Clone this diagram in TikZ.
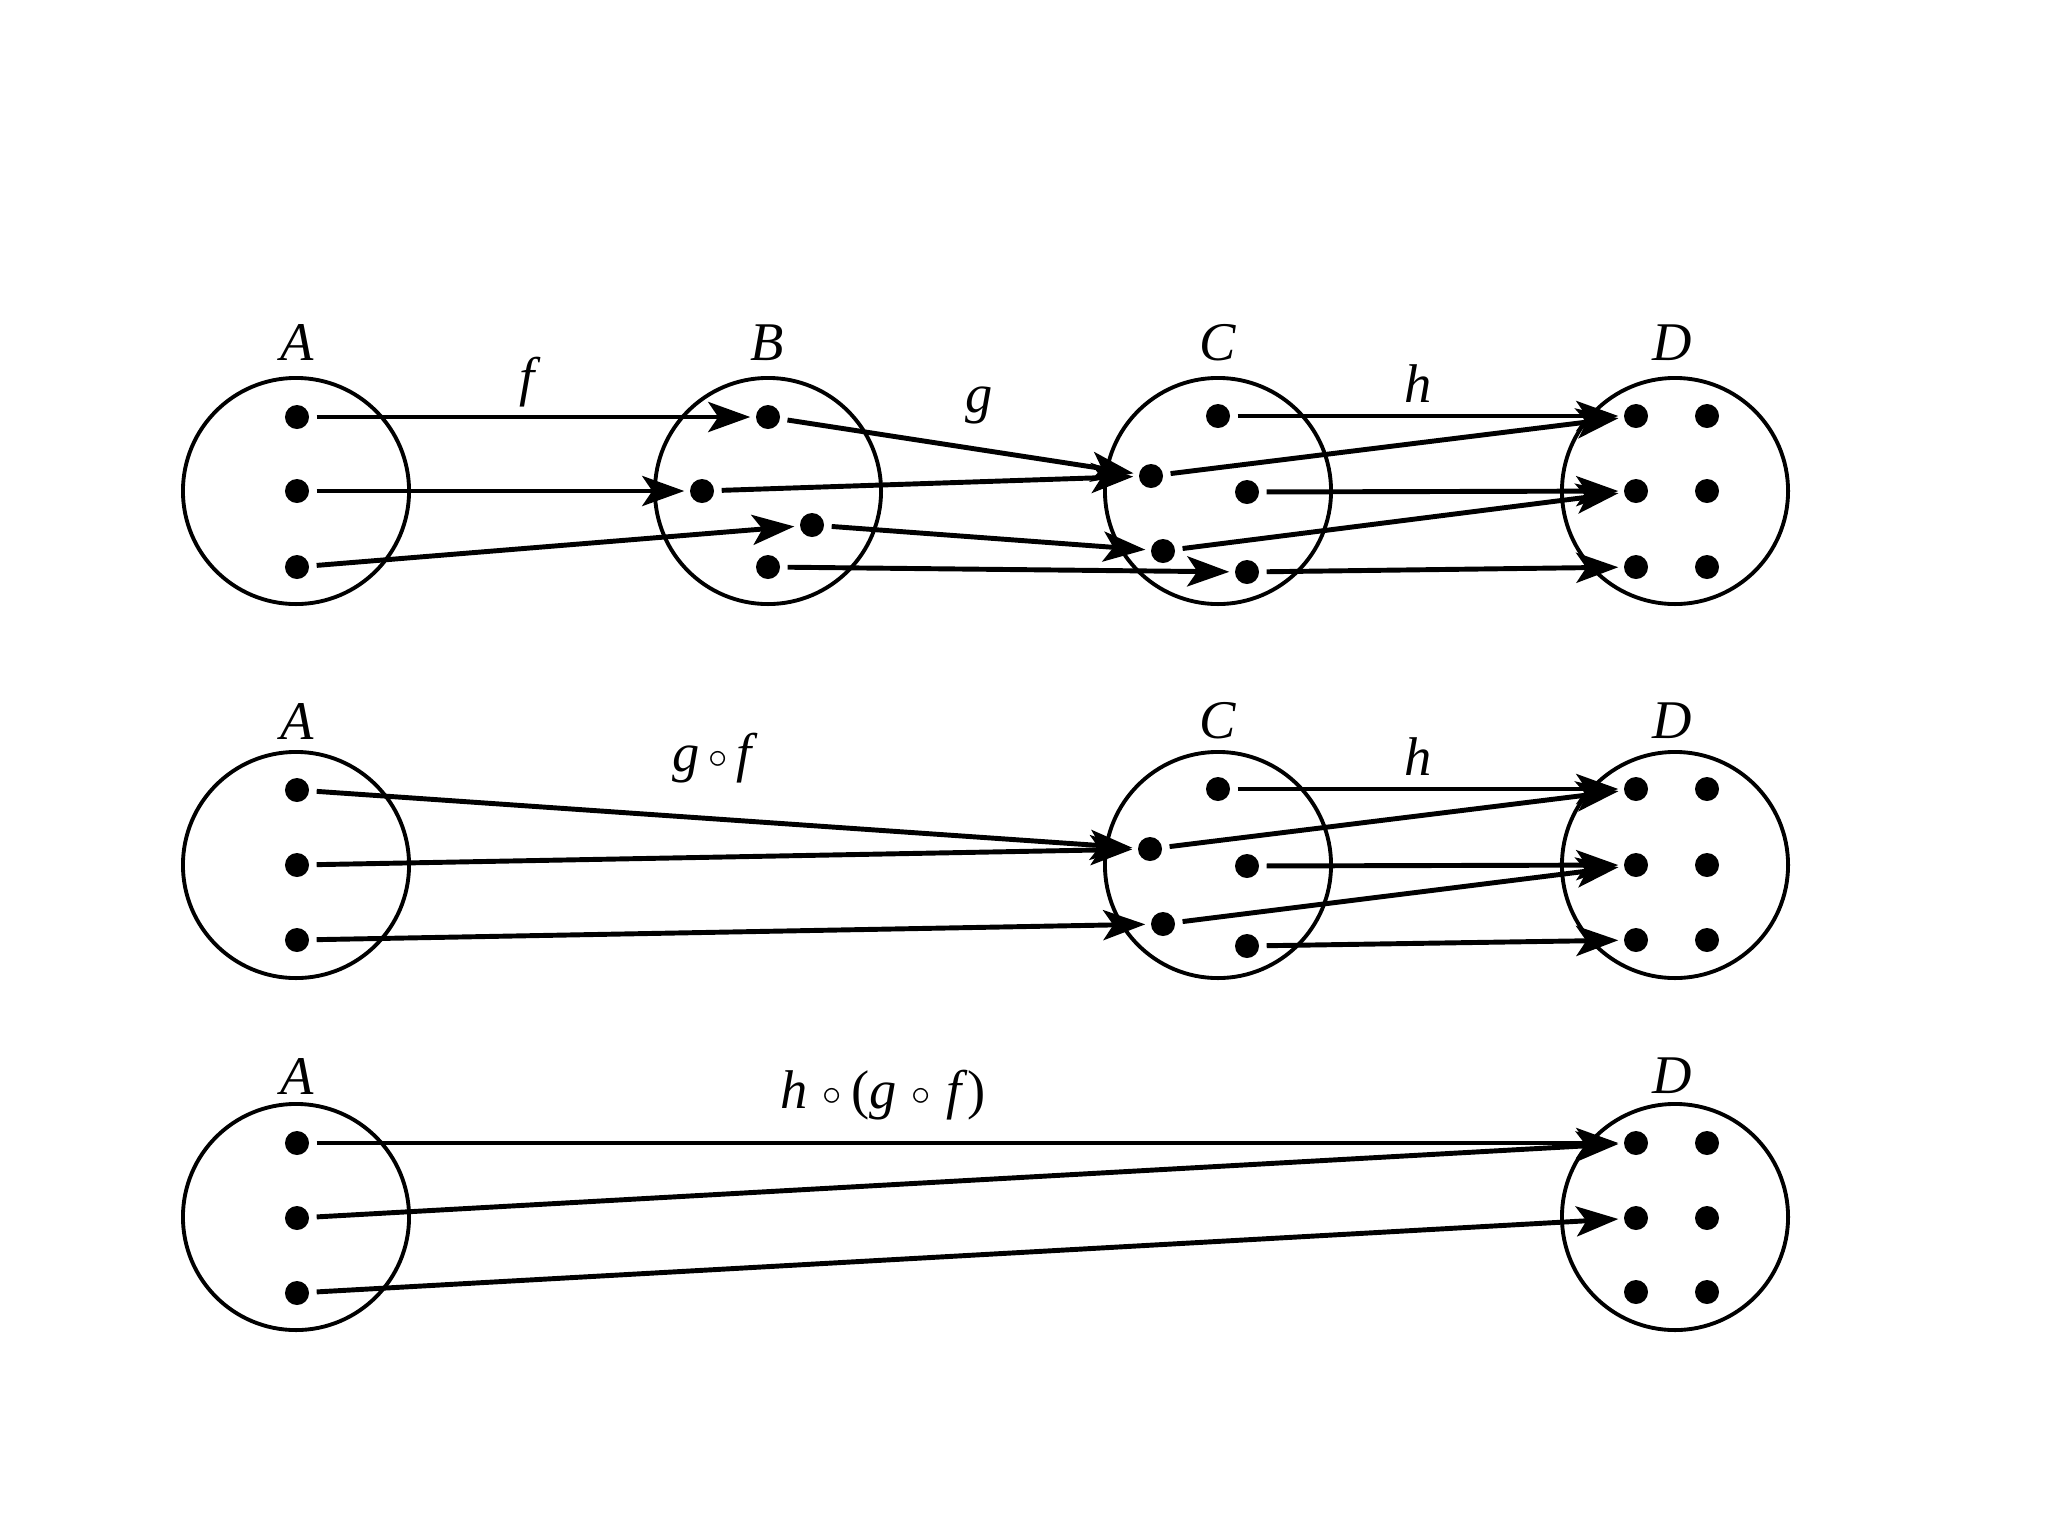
\documentclass[tikz,border=0pt]{standalone}
\usepackage{fontspec}
\setmainfont{Liberation Serif}
\usetikzlibrary{arrows.meta}
\tikzset{
  setc/.style={draw, circle, line width=1.1pt, minimum size=2.26cm, inner sep=0pt},
  dot/.style={circle, fill=black, inner sep=0pt, minimum size=0.24cm},
  arr/.style={-{Stealth[length=0.42cm,width=0.3cm,inset=0.1cm]}, line width=1.4pt, shorten <=0.07cm, shorten >=0.05cm},
  lab/.style={font=\fontsize{15.5}{18}\selectfont\itshape, inner sep=0pt},
  sop/.style={font=\fontsize{11}{13}\selectfont}
}
\newcommand{\rop}{\raisebox{0.05em}{\fontsize{11}{13}\selectfont$\circ$}}
\begin{document}
\begin{tikzpicture}[x=0.01cm,y=-0.01cm]
\useasboundingbox[fill=white] (0,0) rectangle (2048,1536);
% ---------- row 1 ----------
\node[setc] (A1) at (296,491) {};
\node[setc] (B1) at (768,491) {};
\node[setc] (C1) at (1218,491) {};
\node[setc] (D1) at (1675,491) {};
\node[lab] (tA1) at (297,343) {A};
\node[lab] (tB1) at (767,343) {B};
\node[lab] (tC1) at (1218,343) {C};
\node[lab] (tD1) at (1672,343) {D};
\node[lab] (tf) at (527,382) {f};
\node[lab] (tg) at (979,405) {g};
\node[lab] (th1) at (1418,384) {h};
\node[dot] (a1) at (297,417) {};
\node[dot] (a2) at (297,491) {};
\node[dot] (a3) at (297,567) {};
\node[dot] (b1) at (768,417) {};
\node[dot] (b2) at (702,491) {};
\node[dot] (b3) at (812,525) {};
\node[dot] (b4) at (768,567) {};
\node[dot] (c1) at (1218,416) {};
\node[dot] (c2) at (1151,476) {};
\node[dot] (c3) at (1247,492) {};
\node[dot] (c4) at (1163,551) {};
\node[dot] (c5) at (1247,572) {};
\node[dot] (d1) at (1636,416) {};
\node[dot] (d2) at (1707,416) {};
\node[dot] (d3) at (1636,491) {};
\node[dot] (d4) at (1707,491) {};
\node[dot] (d5) at (1636,567) {};
\node[dot] (d6) at (1707,567) {};
\draw[arr] (a1) -- (b1);
\draw[arr] (a2) -- (b2);
\draw[arr] (a3) -- (b3);
\draw[arr] (b1) -- (c2);
\draw[arr] (b2) -- (c2);
\draw[arr] (b3) -- (c4);
\draw[arr] (b4) -- (c5);
\draw[arr] (c1) -- (d1);
\draw[arr] (c2) -- (d1);
\draw[arr] (c3) -- (d3);
\draw[arr] (c4) -- (d3);
\draw[arr] (c5) -- (d5);
% ---------- row 2 ----------
\node[setc] (A2) at (296,865) {};
\node[setc] (C2) at (1218,865) {};
\node[setc] (D2) at (1675,865) {};
\node[lab] (tA2) at (297,721) {A};
\node[lab] (tC2) at (1218,721) {C};
\node[lab] (tD2) at (1672,721) {D};
\node[lab] (tgf) at (712,758) {g\,\rop\,f};
\node[lab] (th2) at (1418,757) {h};
\node[dot] (ma1) at (297,790) {};
\node[dot] (ma2) at (297,865) {};
\node[dot] (ma3) at (297,940) {};
\node[dot] (mc1) at (1218,789) {};
\node[dot] (mc2) at (1150,849) {};
\node[dot] (mc3) at (1247,866) {};
\node[dot] (mc4) at (1163,924) {};
\node[dot] (mc5) at (1247,946) {};
\node[dot] (md1) at (1636,789) {};
\node[dot] (md2) at (1707,789) {};
\node[dot] (md3) at (1636,865) {};
\node[dot] (md4) at (1707,865) {};
\node[dot] (md5) at (1636,940) {};
\node[dot] (md6) at (1707,940) {};
\draw[arr] (ma1) -- (mc2);
\draw[arr] (ma2) -- (mc2);
\draw[arr] (ma3) -- (mc4);
\draw[arr] (mc1) -- (md1);
\draw[arr] (mc2) -- (md1);
\draw[arr] (mc3) -- (md3);
\draw[arr] (mc4) -- (md3);
\draw[arr] (mc5) -- (md5);
% ---------- row 3 ----------
\node[setc] (A3) at (296,1217) {};
\node[setc] (D3) at (1675,1217) {};
\node[lab] (tA3) at (297,1076) {A};
\node[lab] (tD3) at (1672,1076) {D};
\node[lab] (thgf) at (883,1095) {h\;\rop\,\upshape(\itshape g\;\rop\;f\/\upshape)};
\node[dot] (la1) at (297,1143) {};
\node[dot] (la2) at (297,1218) {};
\node[dot] (la3) at (297,1293) {};
\node[dot] (ld1) at (1636,1143) {};
\node[dot] (ld2) at (1707,1143) {};
\node[dot] (ld3) at (1636,1218) {};
\node[dot] (ld4) at (1707,1218) {};
\node[dot] (ld5) at (1636,1292) {};
\node[dot] (ld6) at (1707,1292) {};
\draw[arr] (la1) -- (ld1);
\draw[arr] (la2) -- (ld1);
\draw[arr] (la3) -- (ld3);
\end{tikzpicture}
\end{document}
